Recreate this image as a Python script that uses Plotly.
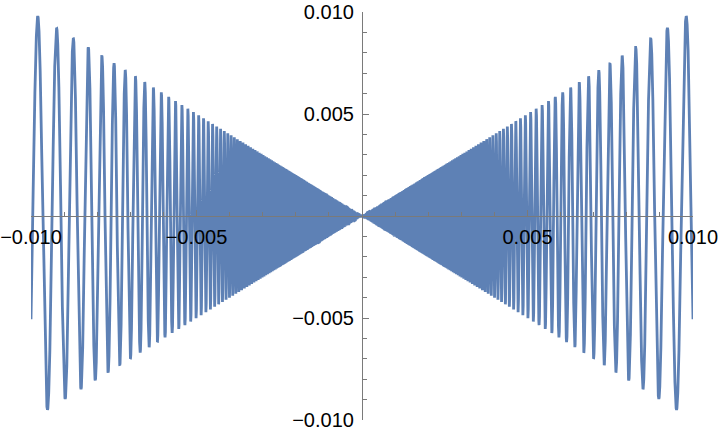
import numpy as np
import plotly.graph_objects as go

# Plotted function: y = x * sin(1/x) on [-0.01, 0.01]
x_min = -0.01
x_max = 0.01
n_samples = 40000  # even count, so x = 0 is never sampled

x_tick_vals = [-0.01, -0.005, 0.005, 0.01]
x_tick_text = ["\u22120.010", "\u22120.005", "0.005", "0.010"]
y_tick_vals = [-0.01, -0.005, 0.005, 0.01]
y_tick_text = ["\u22120.010", "\u22120.005", "0.005", "0.010"]

x = np.linspace(x_min, x_max, n_samples)
y = x * np.sin(1.0 / x)

axis_color = "#7a7a7a"

fig = go.Figure()
fig.add_trace(go.Scatter(
    x=x, y=y, mode="lines",
    line=dict(color="#5E81B5", width=2.8),
    hoverinfo="skip",
))

common = dict(
    showgrid=False, zeroline=False, automargin=False,
    showline=True, linecolor=axis_color, linewidth=1.2,
    ticks="inside", ticklen=6, tickwidth=1.1, tickcolor=axis_color,
    tickmode="array",
    minor=dict(ticks="inside", ticklen=4, tickwidth=1, tickcolor=axis_color,
               tickmode="linear", tick0=0, dtick=0.001, showgrid=False),
    anchor="free", position=0.5,
)

fig.update_xaxes(range=[x_min, x_max], tickvals=x_tick_vals, ticktext=x_tick_text,
                 side="bottom", ticklabelstandoff=3, **common)
fig.update_yaxes(range=[-0.01, 0.01], tickvals=y_tick_vals, ticktext=y_tick_text,
                 side="left", ticklabelstandoff=4, **common)

fig.update_layout(
    width=720, height=438,
    margin=dict(l=31, r=27, t=12, b=18),
    paper_bgcolor="white", plot_bgcolor="white",
    font=dict(family="Liberation Sans, Arial, sans-serif", size=20, color="black"),
    showlegend=False,
)

# remove the browser's default body margin so the figure fills the window
fig.write_html("out.html", config={"displayModeBar": False},
               post_script="document.body.style.margin = '0';")
